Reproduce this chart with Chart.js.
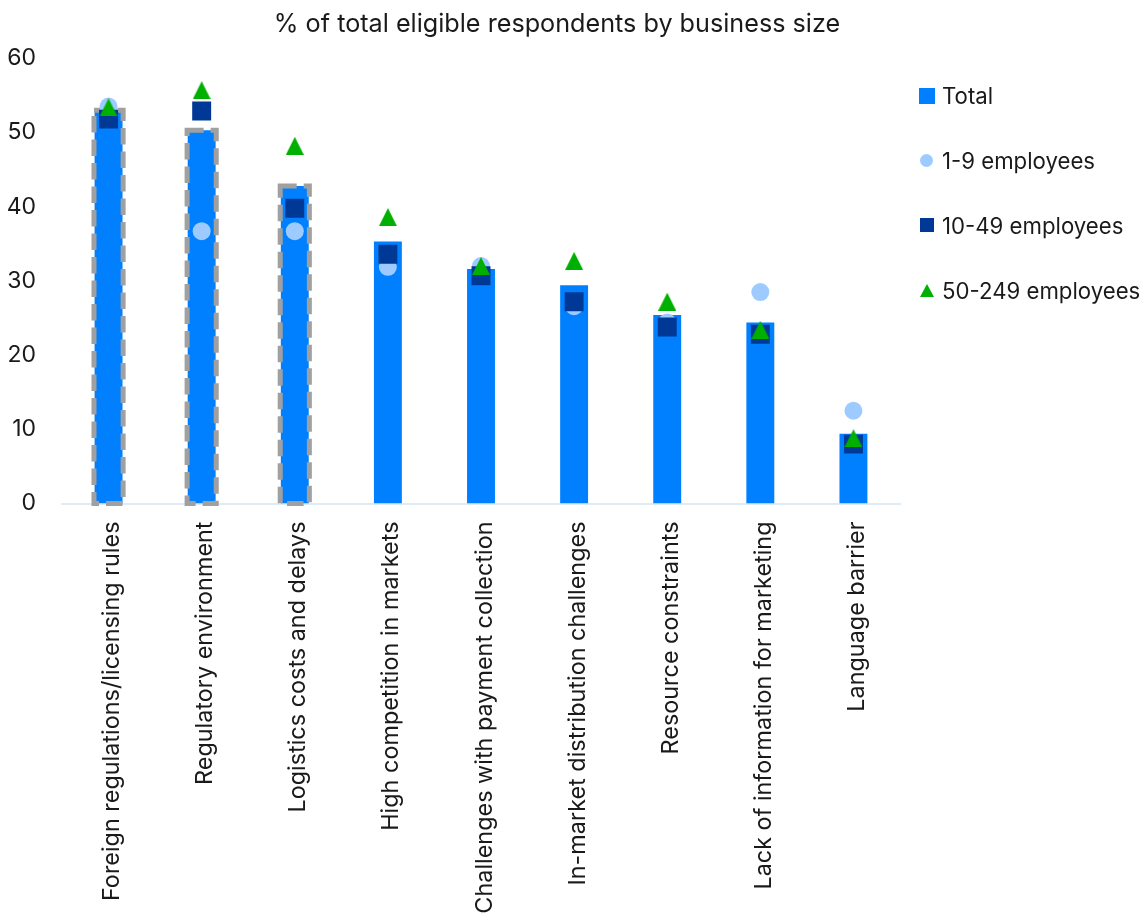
<!DOCTYPE html>
<html>
<head>
<meta charset="utf-8">
<script src="https://cdn.jsdelivr.net/npm/chart.js@4.4.1/dist/chart.umd.min.js"></script>
<style>
  html, body { margin: 0; padding: 0; background: #ffffff; }
  #wrap { position: relative; width: 1148px; height: 914px; overflow: hidden; }
  #chart { position: absolute; left: 0; top: 0; }
  #legend {
    position: absolute; left: 919px; top: 63.6px;
    font-family: Inter, "Open Sans", sans-serif; font-size: 22.2px; color: #1a1a1a;
  }
  .row { height: 64.7px; display: flex; align-items: center; white-space: nowrap; }
  .mark { width: 23px; height: 20px; position: relative; flex: none; }
  .mark span { position: absolute; display: block; }
  .m-bar { left: 0; top: 2px; width: 16px; height: 16px; }
  .m-circle { left: 1px; top: 3.5px; width: 13px; height: 13px; border-radius: 50%; }
  .m-square { left: 1px; top: 3px; width: 14px; height: 14px; }
  .m-triangle { left: 1px; top: 3.5px; width: 0; height: 0;
    border-left: 7px solid transparent; border-right: 7px solid transparent; border-bottom: 13px solid; }
</style>
</head>
<body>
<div id="wrap">
  <canvas id="chart" width="1148" height="914"></canvas>
  <div id="legend"></div>
</div>
<script>
// Barriers to exporting, share of eligible respondents (%)
const categories = [
  'Foreign regulations/licensing rules',
  'Regulatory environment',
  'Logistics costs and delays',
  'High competition in markets',
  'Challenges with payment collection',
  'In-market distribution challenges',
  'Resource constraints',
  'Lack of information for marketing',
  'Language barrier'
];
const seriesNames = ['Total', '1-9 employees', '10-49 employees', '50-249 employees'];
const totalShare  = [53.0, 50.3, 42.8, 35.3, 31.6, 29.4, 25.4, 24.4, 9.4];
const micro       = [53.5, 36.7, 36.7, 31.9, 32.0, 26.6, 24.4, 28.5, 12.5];
const small       = [51.8, 52.9, 39.8, 33.6, 30.7, 27.2, 23.8, 22.8, 8.0];
const medium      = [53.4, 55.7, 48.2, 38.6, 32.0, 32.7, 27.2, 23.4, 8.8];
const outlinedCategories = categories.slice(0, 3);
const yTicks = [0, 10, 20, 30, 40, 50, 60];
const titleText = '% of total eligible respondents by business size';

const colours = { total: '#0080FF', micro: '#9DCBFF', small: '#003896', medium: '#00B000' };
const fontFamily = 'Inter, "Open Sans", sans-serif';
const textColour = '#1a1a1a';

// Triangle marker drawn onto a small canvas so it can be used as a point style
function triangleMarker(w, h, colour) {
  const c = document.createElement('canvas');
  c.width = w; c.height = h;
  const g = c.getContext('2d');
  g.fillStyle = colour;
  g.beginPath();
  g.moveTo(w / 2, 0); g.lineTo(w, h); g.lineTo(0, h); g.closePath();
  g.fill();
  return c;
}

// Dashed grey frame around the highlighted bars
const dashedOutline = {
  id: 'dashedOutline',
  afterDatasetDraw(chart, args) {
    if (args.index !== 0) return;
    const ctx = chart.ctx;
    ctx.save();
    ctx.strokeStyle = '#A0A0A0';
    ctx.lineWidth = 5;
    ctx.setLineDash([16.5, 7]);
    args.meta.data.forEach((bar, i) => {
      if (!outlinedCategories.includes(categories[i])) return;
      const { x, y, base, width } = bar.getProps(['x', 'y', 'base', 'width'], true);
      ctx.strokeRect(x - width / 2 - 0.6, y, width + 1.2, base - y);
    });
    ctx.restore();
  }
};

// Chart heading, centred over the plot and legend block
const heading = {
  id: 'heading',
  afterDraw(chart) {
    const ctx = chart.ctx;
    ctx.save();
    ctx.font = '25.2px ' + fontFamily;
    ctx.fillStyle = textColour;
    ctx.textAlign = 'center';
    ctx.textBaseline = 'middle';
    ctx.fillText(titleText, 557, 24);
    ctx.restore();
  }
};

new Chart(document.getElementById('chart'), {
  type: 'bar',
  data: {
    labels: categories,
    datasets: [
      { type: 'bar', label: seriesNames[0], data: totalShare, backgroundColor: colours.total,
        barPercentage: 0.3, categoryPercentage: 1, order: 4 },
      { type: 'line', label: seriesNames[1], data: micro, showLine: false, pointStyle: 'circle',
        pointRadius: 9, pointBackgroundColor: colours.micro, pointBorderWidth: 0, order: 3 },
      { type: 'line', label: seriesNames[2], data: small, showLine: false, pointStyle: 'rect',
        pointRadius: 13.4, pointBackgroundColor: colours.small, pointBorderWidth: 0, order: 2 },
      { type: 'line', label: seriesNames[3], data: medium, showLine: false,
        pointStyle: triangleMarker(18, 18, colours.medium), pointRadius: 9,
        pointBackgroundColor: colours.medium, pointBorderWidth: 0, order: 1 }
    ]
  },
  options: {
    responsive: false,
    animation: false,
    devicePixelRatio: 1,
    layout: { padding: { left: 0, right: 248, top: 58.3, bottom: 0 } },
    plugins: {
      legend: { display: false },
      tooltip: { enabled: false },
      title: { display: false }
    },
    scales: {
      x: {
        offset: true,
        grid: { display: false, drawTicks: false },
        border: { display: true, color: '#DDEBF7', width: 2 },
        ticks: { autoSkip: false, minRotation: 90, maxRotation: 90, padding: 18, labelOffset: 3.5,
                 color: textColour, font: { family: fontFamily, size: 23.4 } },
        afterFit(scale) { scale.height = 410.5; }
      },
      y: {
        min: 0, max: 60,
        grid: { display: false, drawTicks: false },
        border: { display: false },
        afterBuildTicks(scale) { scale.ticks = yTicks.map(v => ({ value: v })); },
        ticks: { padding: 26, color: textColour, font: { family: fontFamily, size: 23 } },
        afterFit(scale) { scale.width = 62; }
      }
    }
  },
  plugins: [dashedOutline, heading]
});

// Legend built from the series names
const markClass = ['m-bar', 'm-circle', 'm-square', 'm-triangle'];
const markColour = [colours.total, colours.micro, colours.small, colours.medium];
const legendEl = document.getElementById('legend');
seriesNames.forEach((name, i) => {
  const row = document.createElement('div');
  row.className = 'row';
  const mark = document.createElement('div');
  mark.className = 'mark';
  const shape = document.createElement('span');
  shape.className = markClass[i];
  if (markClass[i] === 'm-triangle') shape.style.borderBottomColor = markColour[i];
  else shape.style.background = markColour[i];
  mark.appendChild(shape);
  const label = document.createElement('span');
  label.textContent = name;
  row.appendChild(mark);
  row.appendChild(label);
  legendEl.appendChild(row);
});
</script>
</body>
</html>
